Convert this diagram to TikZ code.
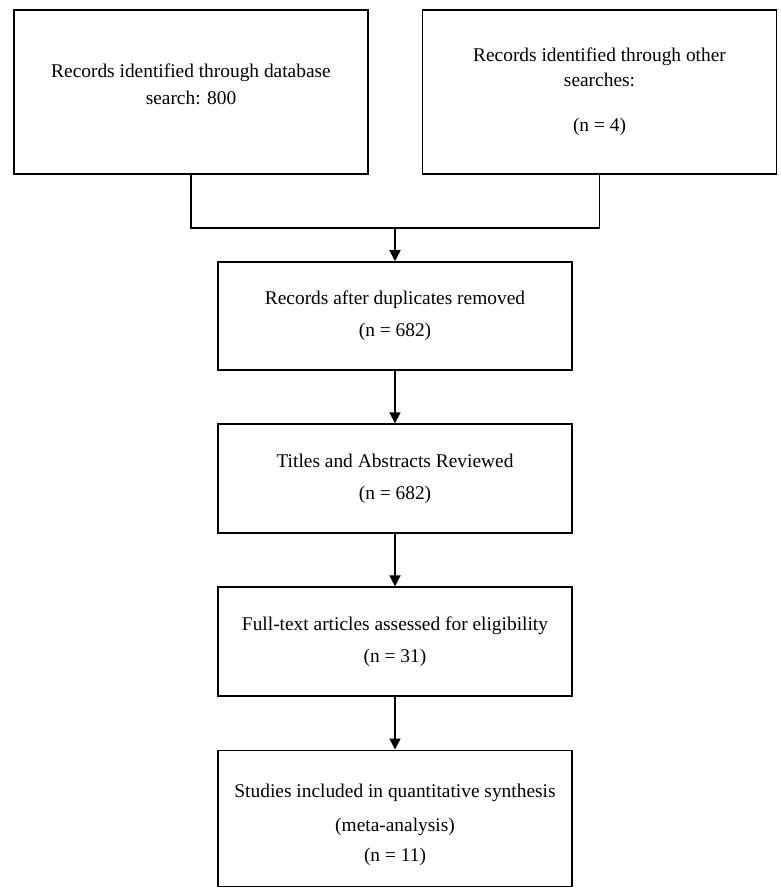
\documentclass[tikz,border=0pt]{standalone}
\usepackage{fontspec}
\setmainfont{Liberation Serif}
\usetikzlibrary{positioning,arrows.meta}

\begin{document}
\begin{tikzpicture}[x=1pt,y=1pt,
    box/.style={draw,line width=1.6pt,align=center,minimum width=354pt,
        inner sep=0pt,font=\fontsize{19.4}{25}\selectfont},
    flow/.style={line width=1.6pt,-{Triangle[length=11pt,width=11pt]}},
    node distance=52.5pt]
    \useasboundingbox (0,0) rectangle (781,-892);
    %% top row
    \node[box,minimum height=164pt] (db) at (191,-92) {Records identified through database\\[2pt]search: 800\\[-10pt]\mbox{}};
    \node[box,minimum height=164pt] (other) at (599.5,-92) {Records identified through other\\searches:\\[20pt](n = 4)};
    % chain below
    \node[box,minimum height=108pt] (dup) at (395,-316) {Records after duplicates removed\\[7pt](n = 682)};
    \node[box,minimum height=109pt,below=of dup] (screen) {Titles and Abstracts Reviewed\\[7pt](n = 682)};
    \node[box,minimum height=109pt,below=of screen] (full) {Full-text articles assessed for eligibility\\[7pt](n = 31)};
    \node[box,minimum height=136pt,below=of full] (incl) {\mbox{}\\[2pt]Studies included in quantitative synthesis\\[9pt](meta-analysis)\\[5pt](n = 11)};
    % connectors
    \coordinate (join) at (dup.north |- 0,-228);
    \draw[line width=1.6pt] (db.south) |- (join) -| (other.south);
    \draw[flow] (join) -- (dup);
    \draw[flow] (dup) -- (screen);
    \draw[flow] (screen) -- (full);
    \draw[flow] (full) -- (incl);
\end{tikzpicture}
\end{document}
